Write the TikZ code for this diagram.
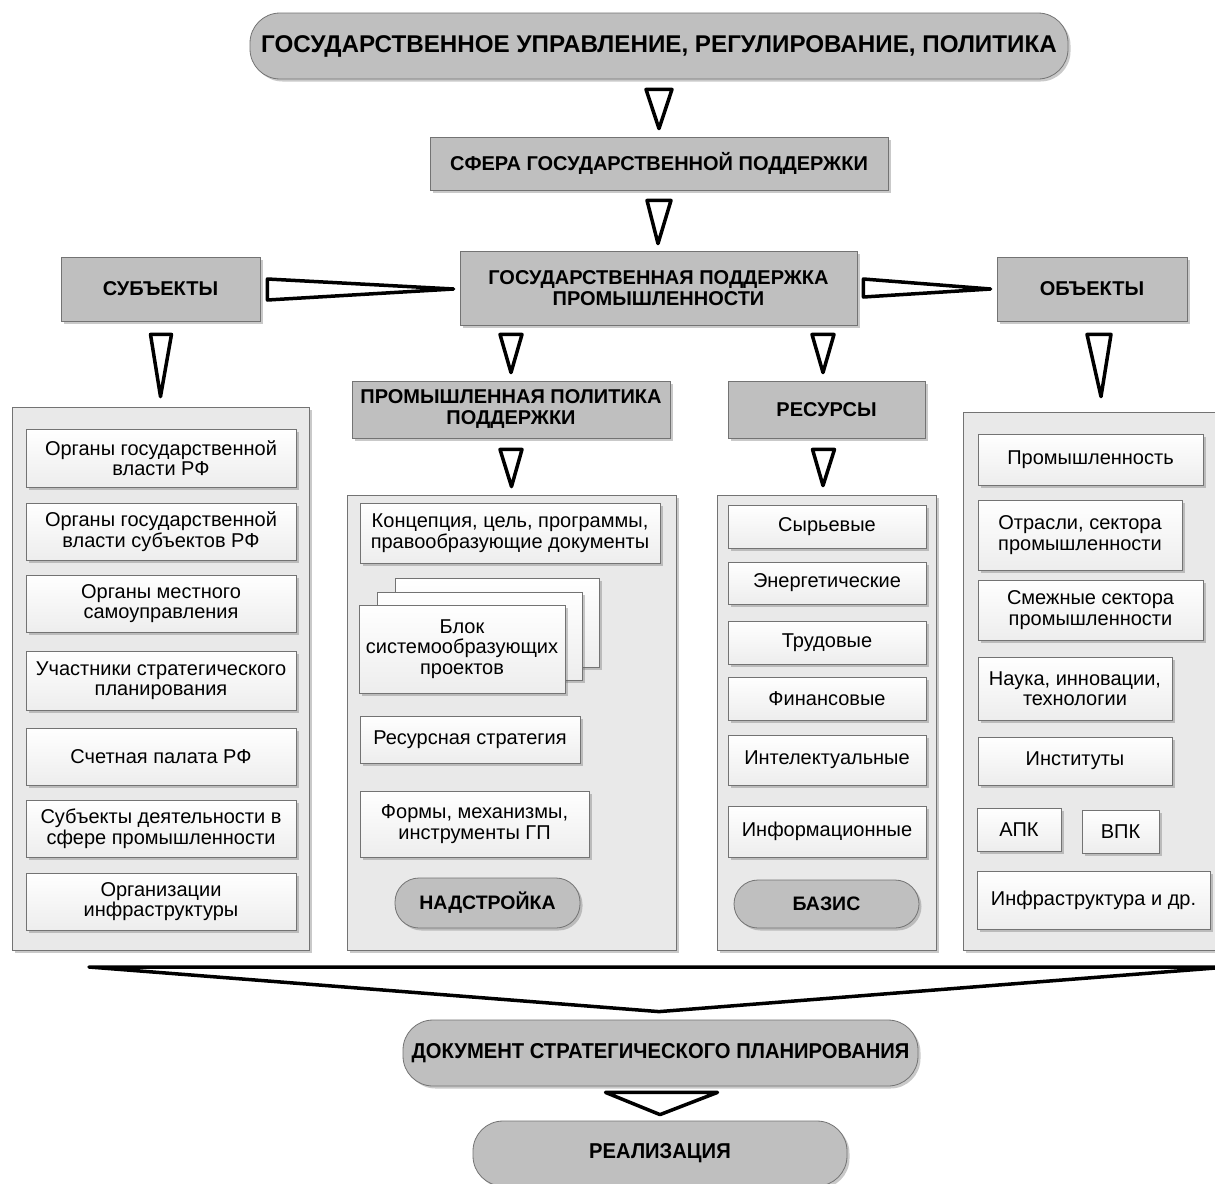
\documentclass[tikz,border=0pt]{standalone}
\usepackage{fontspec}
\setmainfont{Liberation Sans}
\newfontfamily\narrowfont[FakeStretch=0.94]{Liberation Sans}
\usetikzlibrary{shadows,calc}

\definecolor{hdr}{gray}{0.75}
\definecolor{cont}{gray}{0.915}
\definecolor{edge}{gray}{0.45}

% \bx{name}{x1}{y1}{x2}{y2}{style}{text}
\newcommand{\bx}[7]{\node[#6, minimum width={(#4)-(#2)}, minimum height={(#5)-(#3)}] (#1) at ({((#2)+(#4))/2},{((#3)+(#5))/2}) {#7};}

\tikzset{
  shad/.style={drop shadow={shadow xshift=2.5pt, shadow yshift=-2.5pt, opacity=0.35, fill=black!60}},
  hdrbox/.style={draw=edge, fill=hdr, line width=0.8pt, inner sep=0pt, align=center,
    font=\bfseries\fontsize{20}{21}\selectfont, shad},
  contbox/.style={draw=edge, fill=cont, line width=0.8pt, inner sep=0pt, shad},
  itembox/.style={draw=edge, top color=white, bottom color=black!7, line width=0.8pt,
    inner sep=0pt, align=center, font=\fontsize{20}{20.5}\selectfont, shad},
  pillbox/.style={hdrbox, rounded corners=#1},
  tri/.style={draw=black, fill=white, line width=3.5pt, line join=round},
}

\begin{document}
\begin{tikzpicture}[x=1pt, y=-1pt]
\useasboundingbox[fill=white] (0,0) rectangle (1215,1183);
\clip (0,0) rectangle (1215,1183);

% top level
\bx{gov}{250}{13}{1068}{79}{pillbox=30pt, font=\bfseries\fontsize{24.2}{26}\selectfont}{ГОСУДАРСТВЕННОЕ УПРАВЛЕНИЕ, РЕГУЛИРОВАНИЕ, ПОЛИТИКА}
\bx{sfera}{430}{137}{888}{190}{hdrbox}{СФЕРА ГОСУДАРСТВЕННОЙ ПОДДЕРЖКИ}
\bx{gp}{460}{251}{857}{325}{hdrbox}{ГОСУДАРСТВЕННАЯ ПОДДЕРЖКА\\ПРОМЫШЛЕННОСТИ}
\bx{sub}{61}{257}{260}{321}{hdrbox}{СУБЪЕКТЫ}
\bx{obj}{997}{257}{1187}{321}{hdrbox}{ОБЪЕКТЫ}
\bx{pp}{352}{381}{670}{438}{hdrbox}{ПРОМЫШЛЕННАЯ ПОЛИТИКА\\ПОДДЕРЖКИ}
\bx{res}{728}{381}{925}{438}{hdrbox}{РЕСУРСЫ}

% containers
\bx{subc}{12}{407}{309}{950}{contbox}{}
\bx{ppc}{347}{495}{676}{950}{contbox}{}
\bx{resc}{717}{495}{936}{950}{contbox}{}
\bx{objc}{963}{412}{1225}{950}{contbox}{}

% subjects
\bx{s1}{26}{429}{296}{487}{itembox}{Органы государственной\\власти РФ}
\bx{s2}{26}{503}{296}{560}{itembox}{Органы государственной\\власти субъектов РФ}
\bx{s3}{26}{575}{296}{632}{itembox}{Органы местного\\самоуправления}
\bx{s4}{26}{651}{296}{710}{itembox}{Участники стратегического\\планирования}
\bx{s5}{26}{728}{296}{785}{itembox}{Счетная палата РФ}
\bx{s6}{26}{800}{296}{857}{itembox}{Субъекты деятельности в\\сфере промышленности}
\bx{s7}{26}{873}{296}{930}{itembox}{Организации\\инфраструктуры}

% policy
\bx{p1}{360}{503}{660}{563}{itembox}{Концепция, цель, программы,\\правообразующие документы}
\bx{p2c}{395}{578}{599}{667}{itembox}{}
\bx{p2b}{377}{592}{582}{680}{itembox}{}
\bx{p2}{359}{605}{565}{693}{itembox}{Блок\\системообразующих\\проектов}
\bx{p3}{360}{716}{580}{763}{itembox}{Ресурсная стратегия}
\bx{p4}{360}{791}{589}{857}{itembox}{Формы, механизмы,\\инструменты ГП}
\bx{nad}{395}{878}{580}{928}{pillbox=24pt, font=\bfseries\fontsize{19.5}{21}\selectfont}{НАДСТРОЙКА}

% resources
\bx{r1}{728}{505}{926}{548}{itembox}{Сырьевые}
\bx{r2}{728}{562}{926}{604}{itembox}{Энергетические}
\bx{r3}{728}{621}{926}{664}{itembox}{Трудовые}
\bx{r4}{728}{677}{926}{720}{itembox}{Финансовые}
\bx{r5}{728}{735}{926}{785}{itembox}{Интелектуальные}
\bx{r6}{728}{806}{926}{857}{itembox}{Информационные}
\bx{baz}{734}{880}{919}{928}{pillbox=24pt, font=\bfseries\fontsize{19.5}{21}\selectfont}{БАЗИС}

% objects
\bx{o1}{978}{434}{1203}{485}{itembox}{Промышленность}
\bx{o2}{978}{500}{1182}{570}{itembox}{Отрасли, сектора\\промышленности}
\bx{o3}{978}{580}{1203}{640}{itembox}{Смежные сектора\\промышленности}
\bx{o4}{978}{657}{1172}{720}{itembox}{Наука, инновации,\\технологии}
\bx{o5}{978}{737}{1172}{785}{itembox}{Институты}
\bx{o6}{977}{808}{1061}{851}{itembox}{АПК}
\bx{o7}{1082}{810}{1159}{853}{itembox}{ВПК}
\bx{o8}{977}{871}{1210}{929}{itembox}{Инфраструктура и др.}

% bottom
\bx{doc}{403}{1020}{918}{1086}{pillbox=30pt, font=\narrowfont\bfseries\fontsize{21.5}{23}\selectfont}{ДОКУМЕНТ СТРАТЕГИЧЕСКОГО ПЛАНИРОВАНИЯ}
\bx{real}{473}{1121}{847}{1186}{pillbox=30pt, font=\narrowfont\bfseries\fontsize{21.5}{23}\selectfont}{РЕАЛИЗАЦИЯ}

% triangle connectors
\draw[tri] ($(gov.south)+(-13,10)$) -- ($(gov.south)+(13,10)$) -- ($(sfera.north)+(0,-8)$) -- cycle;
\draw[tri] ($(sfera.south)+(-12,10)$) -- ($(sfera.south)+(12,10)$) -- ($(gp.north)+(-0.5,-7)$) -- cycle;
\draw[tri] ($(sub.east)+(7,-10)$) -- ($(sub.east)+(7,11)$) -- ($(gp.west)+(-6,1)$) -- cycle;
\draw[tri] ($(gp.east)+(6,-9)$) -- ($(gp.east)+(6,9)$) -- ($(obj.west)+(-6,0)$) -- cycle;
\draw[tri] ($(sub.south)+(-10,13)$) -- ($(sub.south)+(11,13)$) -- ($(subc.north)+(0,-10)$) -- cycle;
\draw[tri] ($(obj.south)+(-5,13)$) -- ($(obj.south)+(19,13)$) -- ($(objc.north)+(7,-15)$) -- cycle;
\draw[tri] ($(gp.south)+(-158.5,9)$) -- ($(gp.south)+(-136.5,9)$) -- ($(pp.north)+(0,-8)$) -- cycle;
\draw[tri] ($(gp.south)+(153.5,9)$) -- ($(gp.south)+(175.5,9)$) -- ($(res.north)+(-3.5,-8)$) -- cycle;
\draw[tri] ($(pp.south)+(-11,11)$) -- ($(pp.south)+(11,11)$) -- ($(ppc.north)+(0,-8)$) -- cycle;
\draw[tri] ($(res.south)+(-14,11)$) -- ($(res.south)+(8,11)$) -- ($(resc.north)+(-3.5,-9)$) -- cycle;
% big collecting triangle
\coordinate (bl) at (89,967);
\coordinate (br) at (1228,967);
\draw[tri] (bl) -- (br) -- ($(doc.north)+(-1.5,-8)$) -- cycle;
\draw[tri] ($(doc.south)+(-55,6)$) -- ($(doc.south)+(57,6)$) -- ($(real.north)+(0,-6)$) -- cycle;
\end{tikzpicture}
\end{document}
